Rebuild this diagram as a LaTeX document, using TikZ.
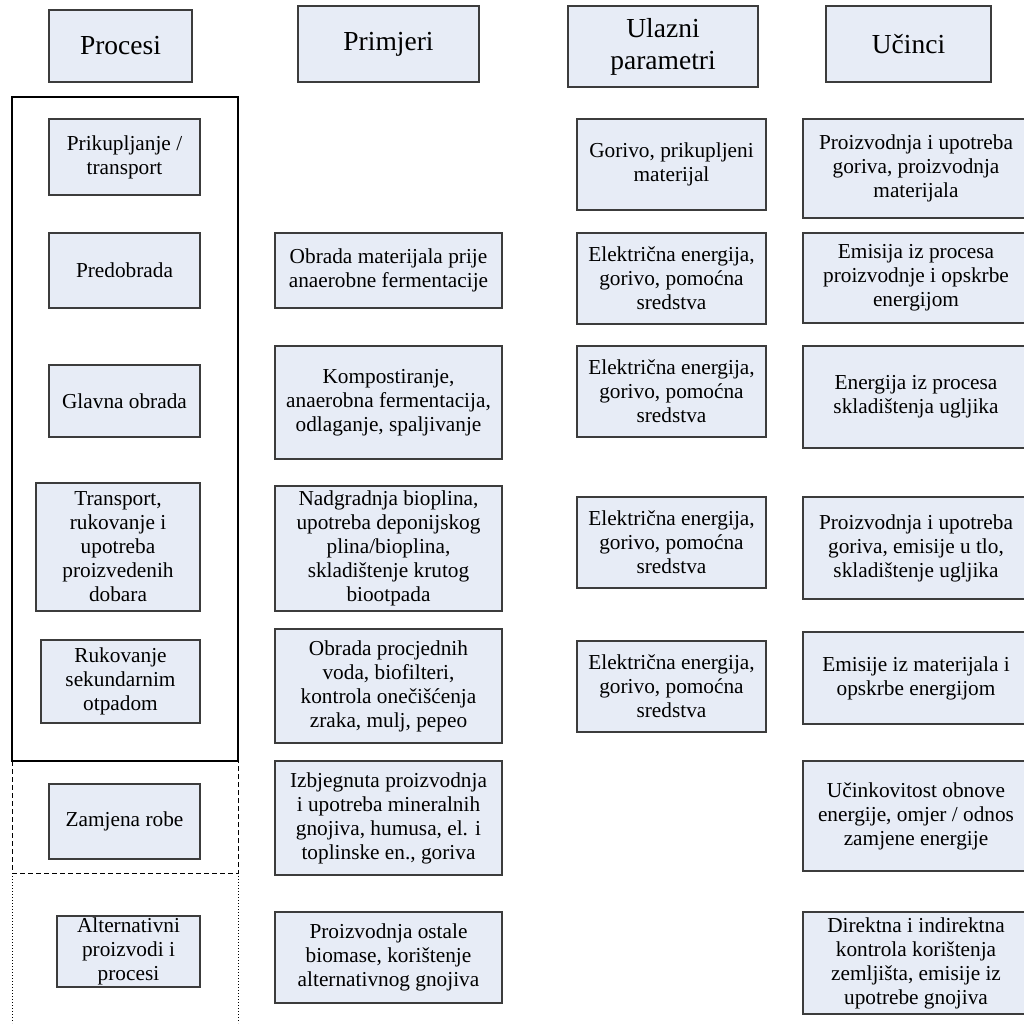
\documentclass[tikz,border=0pt]{standalone}
\usepackage{fontspec}
\setmainfont{Liberation Serif}
\definecolor{cellfill}{RGB}{231,236,246}
\definecolor{cellline}{RGB}{60,60,60}

\begin{document}
\begin{tikzpicture}[x=1pt, y=-1pt,
    cell/.style={draw=cellline, line width=1.2pt, fill=cellfill, align=center,
      inner sep=0pt, font=\fontsize{21.3}{24}\selectfont},
    head/.style={cell, font=\fontsize{27.5}{32}\selectfont},
    procbox/.style={cell, minimum width=151pt},
    exbox/.style={cell, minimum width=227pt},
    inbox/.style={cell, minimum width=189pt, minimum height=91pt},
    outbox/.style={cell, minimum width=226pt}]
    \useasboundingbox (0,0) rectangle (1024,1023);
    % headers
    \node[head, minimum width=143pt, minimum height=72pt] (procesi) at (120.5,46) {Procesi};
    \node[head, minimum width=181pt, minimum height=76pt] (primjeri) at (388.5,44) {Primjeri};
    \node[head, minimum width=190pt, minimum height=81pt] (ulazni) at (663,46.5) {Ulazni\\parametri};
    \node[head, minimum width=165pt, minimum height=76pt] (ucinci) at (908.5,44) {Učinci};
    % frames round the processes
    \draw[line width=2pt] (12,97) rectangle (238,761);
    \draw[line width=1pt, dash pattern=on 5pt off 3pt] (12,761) -- (12,873) -- (238,873) -- (238,761);
    \draw[line width=1pt, dash pattern=on 1pt off 2pt] (12,873) -- (12,1023) (238,873) -- (238,1023);
    % processes
    \node[procbox, minimum height=76pt] (prik) at (124.5,157) {Prikupljanje /\\transport};
    \node[procbox, minimum height=75pt] (predo) at (124.5,270.5) {Predobrada};
    \node[procbox, minimum height=72pt] (glavna) at (124.5,401) {Glavna obrada};
    \node[cell, minimum width=164pt, minimum height=128pt] (transp) at (118,547)
      {Transport,\\rukovanje i\\upotreba\\proizvedenih\\dobara};
    \node[cell, minimum width=159pt, minimum height=83pt] (rukov) at (120.5,681.5)
      {Rukovanje\\sekundarnim\\otpadom};
    \node[procbox, minimum height=75pt] (zamj) at (124.5,821.5) {Zamjena robe};
    \node[cell, minimum width=143pt, minimum height=71pt] (altern) at (128.5,951.5)
      {Alternativni\\proizvodi i\\procesi};
    % examples
    \node[exbox, minimum height=75pt] (obrmat) at (388.5,270.5)
      {Obrada materijala prije\\anaerobne fermentacije};
    \node[exbox, minimum height=113pt] (kompost) at (388.5,402.5)
      {Kompostiranje,\\anaerobna fermentacija,\\odlaganje, spaljivanje};
    \node[exbox, minimum height=125pt] (nadgr) at (388.5,548.5)
      {Nadgradnja bioplina,\\upotreba deponijskog\\plina/bioplina,\\skladištenje krutog\\biootpada};
    \node[exbox, minimum height=114pt] (procj) at (388.5,686)
      {Obrada procjednih\\voda, biofilteri,\\kontrola onečišćenja\\zraka, mulj, pepeo};
    \node[exbox, minimum height=114pt] (izbj) at (388.5,818)
      {Izbjegnuta proizvodnja\\i upotreba mineralnih\\gnojiva, humusa, el. i\\toplinske en., goriva};
    \node[exbox, minimum height=91pt] (ostale) at (388.5,957.5)
      {Proizvodnja ostale\\biomase, korištenje\\alternativnog gnojiva};
    % input parameters
    \node[inbox] (gorivo) at (671.5,164.5) {Gorivo, prikupljeni\\materijal};
    \node[inbox] (elone) at (671.5,278.5) {Električna energija,\\gorivo, pomoćna\\sredstva};
    \node[inbox] (eltwo) at (671.5,391.5) {Električna energija,\\gorivo, pomoćna\\sredstva};
    \node[inbox] (elthree) at (671.5,542.5) {Električna energija,\\gorivo, pomoćna\\sredstva};
    \node[inbox] (elfour) at (671.5,686.5) {Električna energija,\\gorivo, pomoćna\\sredstva};
    % effects
    \node[outbox, minimum height=99pt] (ucone) at (916,168.5)
      {Proizvodnja i upotreba\\goriva, proizvodnja\\materijala};
    \node[outbox, minimum height=90pt] (uctwo) at (916,278)
      {Emisija iz procesa\\proizvodnje i opskrbe\\energijom};
    \node[outbox, minimum height=102pt] (ucthree) at (916,397)
      {Energija iz procesa\\skladištenja ugljika};
    \node[outbox, minimum height=102pt] (ucfour) at (916,548)
      {Proizvodnja i upotreba\\goriva, emisije u tlo,\\skladištenje ugljika};
    \node[outbox, minimum height=92pt] (ucfive) at (916,678)
      {Emisije iz materijala i\\opskrbe energijom};
    \node[outbox, minimum height=110pt] (ucsix) at (916,816)
      {Učinkovitost obnove\\energije, omjer / odnos\\zamjene energije};
    \node[outbox, minimum height=102pt] (ucseven) at (916,963)
      {Direktna i indirektna\\kontrola korištenja\\zemljišta, emisije iz\\upotrebe gnojiva};
  \end{tikzpicture}
\end{document}
